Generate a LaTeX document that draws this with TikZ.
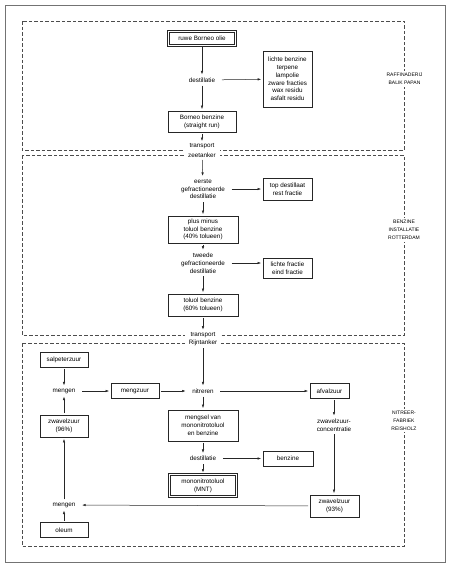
\documentclass[tikz,border=0pt]{standalone}
\usepackage{fontspec}
\setmainfont{Liberation Sans}
\usetikzlibrary{arrows.meta}
\begin{document}
\begin{tikzpicture}[x=1pt,y=-1pt,
  txt/.style={font=\fontsize{6.3}{7.8}\selectfont, align=center, inner xsep=5pt, inner ysep=1.5pt},
  box/.style={txt, draw=black!85, line width=0.7pt, inner sep=0pt},
  dbox/.style={box, double, double distance=1.2pt, line width=0.7pt},
  lab/.style={font=\fontsize{5}{7.8}\selectfont, align=center, fill=white, inner xsep=1.5pt, inner ysep=2pt},
  trl/.style={txt, fill=white, inner xsep=4pt, inner ysep=1pt},
  region/.style={draw=black!70, line width=0.5pt, dash pattern=on 3.5pt off 2pt},
  flow/.style={draw=black!85, line width=0.5pt, -{Latex[length=3.5pt,width=2.4pt]}, shorten <=1.5pt, shorten >=1.5pt}
]
\useasboundingbox (0,0) rectangle (450,566);
% outer frame
\draw[black!55, line width=1pt] (5,5) rectangle (445,562);
% regions
\draw[region] (22,21) rectangle (404,150);
\draw[region] (22,155) rectangle (404,335);
\draw[region] (22,343) rectangle (404,546);

% region labels
\node[lab] (lab1) at (404.5,79) {RAFFINADERIJ\\BALIK PAPAN};
\node[lab] (lab2) at (404,230) {BENZINE\\INSTALLATIE\\ROTTERDAM};
\node[lab] (lab3) at (404,420.5) {NITREER-\\FABRIEK\\REISHOLZ};

% region 1
\node[dbox, minimum width=67.2pt, minimum height=14.2pt] (ruwe) at (202,38.5) {ruwe Borneo olie};
\node[txt] (dest1) at (202,80) {destillatie};
\node[box, minimum width=49pt, minimum height=56pt] (side1) at (287.5,79) {lichte benzine\\terpene\\lampolie\\zware fracties\\wax residu\\asfalt residu};
\node[box, minimum width=68pt, minimum height=21pt] (borneo) at (202,121.5) {Borneo benzine\\(straight run)};
\node[trl] (tr1) at (202,150.5) {transport\\[1.5pt]zeetanker};

% region 2
\node[txt] (eerste) at (203,189) {eerste\\gefractioneerde\\destillatie};
\node[box, minimum width=49pt, minimum height=22pt] (side2) at (287.5,189) {top destillaat\\rest fractie};
\node[box, minimum width=70pt, minimum height=27pt] (pm) at (203,229.5) {plus minus\\toluol benzine\\(40\% tolueen)};
\node[txt] (tweede) at (203,263) {tweede\\gefractioneerde\\destillatie};
\node[box, minimum width=49pt, minimum height=20pt] (side3) at (287.5,268) {lichte fractie\\eind fractie};
\node[box, minimum width=70pt, minimum height=22pt] (tol) at (203,305) {toluol benzine\\(60\% tolueen)};
\node[trl] (tr2) at (203,339) {transport\\Rijntanker};

% region 3
\node[txt] (nit) at (203,391) {nitreren};
\node[box, minimum width=48pt, minimum height=15pt] (salp) at (64,359.5) {salpeterzuur};
\node[txt] (meng1) at (64,391) {mengen};
\node[box, minimum width=48pt, minimum height=22pt] (zw96) at (64,426) {zwavelzuur\\(96\%)};
\node[box, minimum width=48pt, minimum height=15pt] (mz) at (135,391) {mengzuur};
\node[box, minimum width=39pt, minimum height=15pt] (afv) at (329.5,391) {afvalzuur};
\node[txt] (zwc) at (334,425) {zwavelzuur-\\concentratie};
\node[box, minimum width=49pt, minimum height=22pt] (zw93) at (334.5,506) {zwavelzuur\\(93\%)};
\node[txt] (meng2) at (64,505) {mengen};
\node[box, minimum width=48pt, minimum height=15pt] (oleum) at (64,530) {oleum};
\node[box, minimum width=70pt, minimum height=31pt] (mengsel) at (203,425.5) {mengsel van\\mononitrotoluol\\en benzine};
\node[txt] (dest3) at (203,458.5) {destillatie};
\node[box, minimum width=50pt, minimum height=15pt] (benz) at (288,458.5) {benzine};
\node[dbox, minimum width=67.2pt, minimum height=22.2pt] (mnt) at (203,485.5) {mononitrotoluol\\(MNT)};

% connectors region 1
\draw[flow] (ruwe) -- (dest1);
\draw[flow] (dest1) -- (side1);
\draw[flow] (dest1) -- (borneo);
\draw[flow] (borneo) -- (tr1);
% region 2
\draw[flow] (tr1) -- (eerste);
\draw[flow] (eerste) -- (side2);
\draw[flow] (eerste) -- (pm);
\draw[flow] (pm) -- (tweede);
\draw[flow] (tweede.east) -- (tweede.east -| side3.west);
\draw[flow] (tweede) -- (tol);
\draw[flow] (tol) -- (tr2);
% region 3
\draw[flow] (tr2) -- (nit);
\draw[flow] (salp) -- (meng1);
\draw[flow] (zw96) -- (meng1);
\draw[flow] (meng1) -- (mz);
\draw[flow] (mz) -- (nit);
\draw[flow] (nit) -- (afv);
\draw[flow] (afv.south -| zwc.north) -- (zwc.north);
\draw[flow] (zwc.south) -- (zwc.south |- zw93.north);
\draw[flow] (zw93) -- (meng2);
\draw[flow] (oleum) -- (meng2);
\draw[flow] (meng2) -- (zw96);
\draw[flow] (nit) -- (mengsel);
\draw[flow] (mengsel) -- (dest3);
\draw[flow] (dest3) -- (benz);
\draw[flow] (dest3) -- (mnt);
\end{tikzpicture}
\end{document}
